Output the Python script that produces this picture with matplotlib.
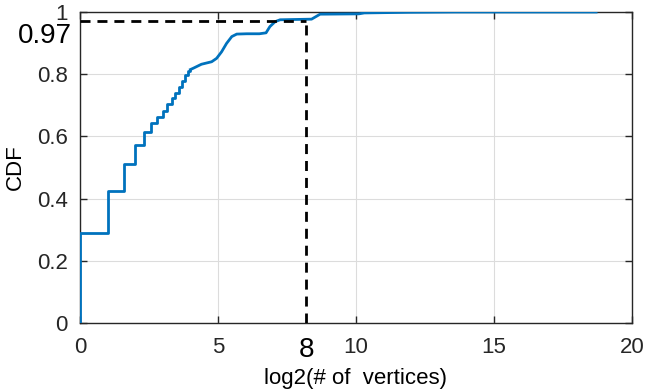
import numpy as np
import matplotlib.pyplot as plt

plt.rcParams['font.family'] = ['Liberation Sans', 'DejaVu Sans']

# discrete part of the CDF (log2 of small vertex counts)
step_x = [0, 0, 1, 1.585, 2, 2.32, 2.585, 2.807, 3, 3.17, 3.32, 3.46, 3.58, 3.70, 3.81, 3.91, 4.0]
step_y = [0, 0.289, 0.424, 0.511, 0.572, 0.614, 0.642, 0.663, 0.683, 0.704, 0.722,
          0.740, 0.760, 0.779, 0.797, 0.810, 0.815]

# dense part, looks smooth
smooth_x = [4.0, 4.1, 4.4, 4.77, 4.95, 5.13, 5.31, 5.5, 5.68, 6.04, 6.5, 6.74, 6.88,
            7.07, 7.25, 8.39, 8.7, 10.1, 10.3, 11.9, 13.6, 18.7]
smooth_y = [0.815, 0.819, 0.832, 0.840, 0.851, 0.872, 0.899, 0.921, 0.929, 0.930, 0.930,
            0.933, 0.953, 0.969, 0.975, 0.977, 0.993, 0.994, 0.997, 0.999, 1.0, 1.0]

mark_x = 8.2
mark_y = 0.97

fig = plt.figure(figsize=(6.45, 3.92), dpi=100)
ax = fig.add_axes([80 / 645, 69 / 392, 552 / 645, 311 / 392])

blue = '#0072BD'
ax.plot(step_x, step_y, color=blue, lw=2, drawstyle='steps-post', zorder=3)
ax.plot(smooth_x, smooth_y, color=blue, lw=2, zorder=3)

ax.plot([0, mark_x], [mark_y, mark_y], 'k--', lw=2, dashes=(3.6, 2.5), zorder=4)
ax.plot([mark_x, mark_x], [0, mark_y], 'k--', lw=2, dashes=(3.6, 2.5), zorder=4)

ax.set_xlim(0, 20)
ax.set_ylim(0, 1)
ax.set_xticks([0, 5, 10, 15, 20])
ax.set_yticks([0, 0.2, 0.4, 0.6, 0.8, 1])
ax.set_yticklabels(['0', '0.2', '0.4', '0.6', '0.8', '1'])
ax.grid(True, color='#dcdcdc', lw=0.8)
ax.set_axisbelow(True)
ax.tick_params(direction='in', length=5, width=1, labelsize=16, colors='#262626',
               top=True, right=True)
ax.tick_params(axis='x', pad=10)
ax.tick_params(axis='y', pad=9)
for s in ax.spines.values():
    s.set_color('#262626')
    s.set_linewidth(1)

ax.annotate('8', xy=(mark_x, 0), xytext=(0, -10), textcoords='offset points',
            fontsize=20, ha='center', va='top')
ax.annotate('0.97', xy=(0, mark_y), xytext=(-6, -1), textcoords='offset points',
            fontsize=20, ha='right', va='top')

ax.set_xlabel('log2(# of  vertices)', fontsize=16, labelpad=7)
ax.set_ylabel('CDF', fontsize=16, labelpad=8)

fig.savefig('out.png', dpi=100)
